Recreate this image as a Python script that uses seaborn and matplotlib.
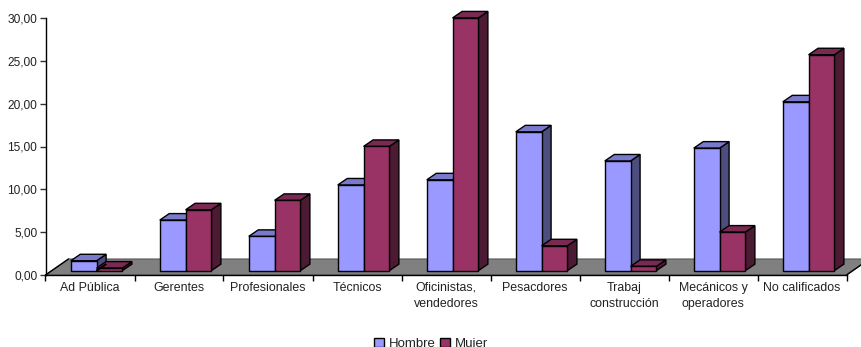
import matplotlib
matplotlib.use('Agg')
import matplotlib.pyplot as plt
import pandas as pd
import seaborn as sns
from matplotlib.patches import Polygon

categories = ['Ad Pública', 'Gerentes', 'Profesionales', 'Técnicos',
              'Oficinistas,\nvendedores', 'Pesacdores', 'Trabaj\nconstrucción',
              'Mecánicos y\noperadores', 'No calificados']
hombre = [1.15, 5.9, 4.0, 10.0, 10.6, 16.2, 12.8, 14.3, 19.7]
mujer = [0.3, 7.1, 8.2, 14.5, 29.5, 2.9, 0.5, 4.5, 25.2]
yticks = [0, 5, 10, 15, 20, 25, 30]

sns.set_style('white')
plt.rcParams['font.family'] = ['Liberation Sans', 'DejaVu Sans']

df = pd.DataFrame({
    'cat': categories * 2,
    'valor': hombre + mujer,
    'sexo': ['Hombre'] * len(hombre) + ['Mujer'] * len(mujer),
})

W, H = 861, 347
fig = plt.figure(figsize=(W / 100, H / 100), dpi=100)
ax = fig.add_axes([45.5 / W, (H - 275) / H, 801 / W, 257 / H])

sns.barplot(data=df, x='cat', y='valor', hue='sexo', order=categories,
            palette={'Hombre': '#9999FF', 'Mujer': '#993366'}, width=0.58,
            saturation=1, edgecolor='black', linewidth=1,
            errorbar=None, ax=ax)

ax.set_xlabel('')
ax.set_ylabel('')

# bars stand in the middle of the floor, not on the axis line
base = 0.51
shift = 0.074

# depth of the fake 3d, in data units
dx = 9.5 / 89
dy = 6.5 / (257 / 30)
top_col = {'#9999FF': '#7A7ACC', '#993366': '#7A2952'}
side_col = {'#9999FF': '#4D4D80', '#993366': '#4D1A33'}

# sides and tops for each bar, left to right so the later bars cover earlier ones
bars = sorted(ax.patches, key=lambda p: p.get_x())
z = 3
for b in bars:
    b.set_y(base)
    c = matplotlib.colors.to_hex(b.get_facecolor()).upper()
    l, r = b.get_x(), b.get_x() + b.get_width()
    bot, t = b.get_y(), b.get_y() + b.get_height()
    side = Polygon([(r, bot), (r + dx, bot + dy), (r + dx, t + dy), (r, t)],
                   facecolor=side_col[c], edgecolor='black', linewidth=1,
                   clip_on=False, zorder=z)
    top = Polygon([(l, t), (r, t), (r + dx, t + dy), (l + dx, t + dy)],
                  facecolor=top_col[c], edgecolor='black', linewidth=1,
                  clip_on=False, zorder=z)
    ax.add_patch(side)
    ax.add_patch(top)
    b.set_zorder(z + 0.5)
    b.set_clip_on(False)
    z += 1

# axes
for s in ['top', 'right']:
    ax.spines[s].set_visible(False)
for s in ['left', 'bottom']:
    ax.spines[s].set_linewidth(1)
    ax.spines[s].set_color('black')
ax.spines['bottom'].set_zorder(2)

ax.set_yticks(yticks)
ax.set_yticklabels([('%.2f' % v).replace('.', ',') for v in yticks])
ax.tick_params(axis='y', left=True, length=4, width=1, labelsize=8.6, pad=2,
               color='#333333', labelcolor='#222222')

ax.set_xticks([i - shift for i in range(len(categories))])
ax.set_xticklabels(categories, linespacing=1.4)
ax.set_xticks([i - 0.5 - shift for i in range(len(categories) + 1)], minor=True)
ax.tick_params(axis='x', which='major', bottom=False, labelsize=8.9, pad=1.5,
               labelcolor='#222222')
ax.tick_params(axis='x', which='minor', bottom=True, length=4, width=1,
               color='black')

ax.set_xlim(-0.5 - shift, len(categories) - 0.5 - shift)
ax.set_ylim(0, 30)

# floor
x0, x1 = ax.get_xlim()
fdx = 23 / 89
fdy = 16 / (257 / 30)
ax.add_patch(Polygon([(x0, 0), (x1, 0), (x1 + fdx, fdy), (x0 + fdx, fdy)],
                     facecolor='#808080', edgecolor='#555555', linewidth=0.8,
                     clip_on=False, zorder=1))
ax.plot([x0, x0 + fdx], [0, fdy], color='black', lw=1, clip_on=False, zorder=1.5)
ax.plot([x1, x1 + fdx], [0, fdy], color='black', lw=1, clip_on=False, zorder=1.5)
ax.set_xlim(x0, x1)
ax.set_ylim(0, 30)

handles, labels = ax.get_legend_handles_labels()
ax.legend(handles, labels, ncols=2, frameon=False, fontsize=9.5,
          loc='center', bbox_to_anchor=(431 / W, (H - 344) / H),
          bbox_transform=fig.transFigure, handlelength=0.75, handleheight=0.75,
          handletextpad=0.35, columnspacing=0.35, labelcolor='#222222',
          borderpad=0, borderaxespad=0)

fig.savefig('out.png', dpi=100)
